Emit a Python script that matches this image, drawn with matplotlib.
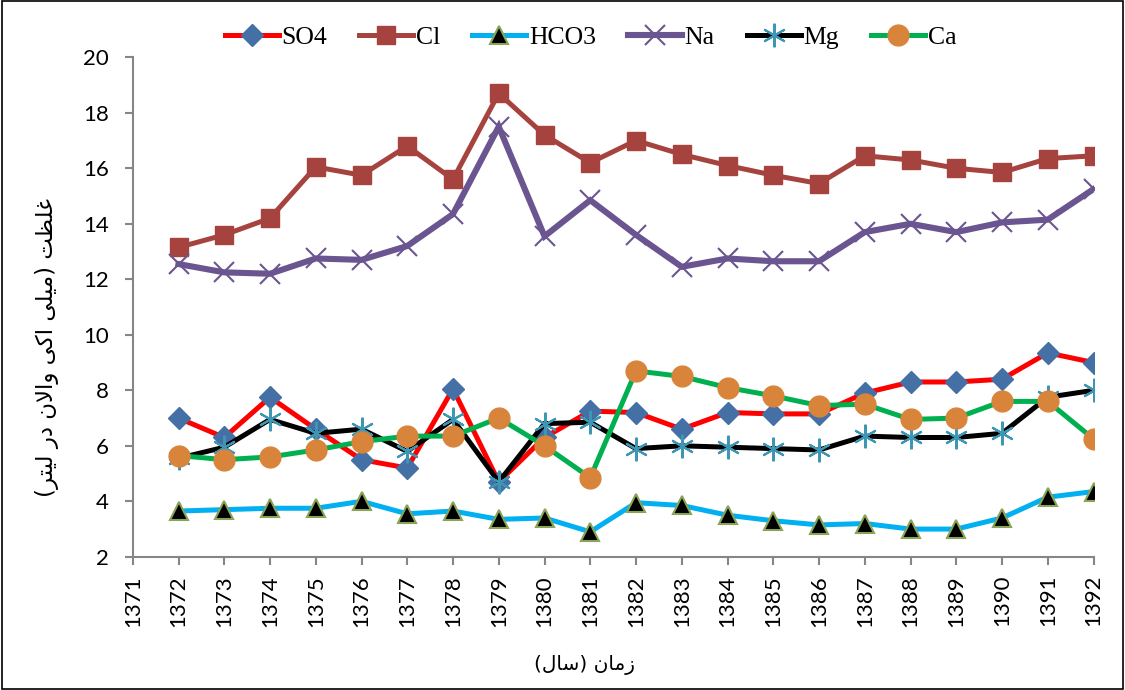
import matplotlib
matplotlib.use("Agg")
import matplotlib.pyplot as plt
from matplotlib.patches import Rectangle

years = list(range(1372, 1393))

so4 = [7.0, 6.3, 7.75, 6.6, 5.5, 5.2, 8.05, 4.7, 6.3, 7.25, 7.2, 6.6,
       7.2, 7.15, 7.15, 7.9, 8.3, 8.3, 8.4, 9.35, 9.0]
cl = [13.15, 13.6, 14.2, 16.05, 15.75, 16.8, 15.6, 18.7, 17.2, 16.2, 17.0, 16.5,
      16.1, 15.75, 15.45, 16.45, 16.3, 16.0, 15.85, 16.35, 16.45]
hco3 = [3.65, 3.7, 3.75, 3.75, 4.0, 3.55, 3.65, 3.35, 3.4, 2.9, 3.95, 3.85,
        3.5, 3.3, 3.15, 3.2, 3.0, 3.0, 3.4, 4.15, 4.35]
na = [12.55, 12.25, 12.2, 12.75, 12.7, 13.2, 14.35, 17.5, 13.55, 14.85, 13.6, 12.45,
      12.75, 12.65, 12.65, 13.7, 14.0, 13.7, 14.05, 14.15, 15.25]
mg = [5.55, 5.95, 6.95, 6.45, 6.6, 5.8, 6.95, 4.7, 6.8, 6.85, 5.9, 6.0,
      5.95, 5.9, 5.85, 6.35, 6.3, 6.3, 6.45, 7.75, 8.0]
ca = [5.65, 5.5, 5.6, 5.85, 6.15, 6.35, 6.35, 7.0, 6.0, 4.85, 8.7, 8.5,
      8.1, 7.8, 7.45, 7.5, 6.95, 7.0, 7.6, 7.6, 6.25]

series_names = ["SO4", "Cl", "HCO3", "Na", "Mg", "Ca"]
y_ticks = list(range(2, 21, 2))
x_ticks = list(range(1371, 1393))

ylabel_text = "غلظت (میلی اکی والان در لیتر)"
xlabel_text = "زمان (سال)"

# minimal Persian shaping: (isolated, final, initial, medial)
FORMS = {
    "ا": ("\uFE8D", "\uFE8E", None, None),
    "ت": ("\uFE95", "\uFE96", "\uFE97", "\uFE98"),
    "د": ("\uFEA9", "\uFEAA", None, None),
    "ر": ("\uFEAD", "\uFEAE", None, None),
    "ز": ("\uFEAF", "\uFEB0", None, None),
    "س": ("\uFEB1", "\uFEB2", "\uFEB3", "\uFEB4"),
    "ظ": ("\uFEC5", "\uFEC6", "\uFEC7", "\uFEC8"),
    "غ": ("\uFECD", "\uFECE", "\uFECF", "\uFED0"),
    "ک": ("\uFB8E", "\uFB8F", "\uFB90", "\uFB91"),
    "ل": ("\uFEDD", "\uFEDE", "\uFEDF", "\uFEE0"),
    "م": ("\uFEE1", "\uFEE2", "\uFEE3", "\uFEE4"),
    "ن": ("\uFEE5", "\uFEE6", "\uFEE7", "\uFEE8"),
    "و": ("\uFEED", "\uFEEE", None, None),
    "ی": ("\uFBFC", "\uFBFD", "\uFBFE", "\uFBFF"),
}


def shape(text):
    # lam-alef ligature first
    chars = []
    i = 0
    while i < len(text):
        if text[i] == "ل" and i + 1 < len(text) and text[i + 1] == "ا":
            chars.append("LA")
            i += 2
        else:
            chars.append(text[i])
            i += 1

    def joins_next(c):
        return c in FORMS and FORMS[c][2] is not None

    def is_letter(c):
        return c in FORMS or c == "LA"

    out = []
    for k, c in enumerate(chars):
        prev = chars[k - 1] if k > 0 else None
        nxt = chars[k + 1] if k + 1 < len(chars) else None
        from_prev = prev is not None and joins_next(prev)
        if c == "LA":
            out.append("\uFEFC" if from_prev else "\uFEFB")
            continue
        if c not in FORMS:
            out.append({"(": ")", ")": "("}.get(c, c))
            continue
        to_next = joins_next(c) and nxt is not None and is_letter(nxt)
        iso, fin, ini, med = FORMS[c]
        if from_prev and to_next:
            out.append(med)
        elif from_prev:
            out.append(fin)
        elif to_next:
            out.append(ini)
        else:
            out.append(iso)
    return "".join(reversed(out))


fig = plt.figure(figsize=(11.25, 6.9), dpi=100)
ax = fig.add_axes([0.118, 0.193, 0.854, 0.724])

styles = [
    (so4, dict(color="#FF0000", lw=3.6, marker="D", ms=11, mfc="#4470A6", mec="#4470A6")),
    (cl, dict(color="#A6433F", lw=3.6, marker="s", ms=13, mfc="#A6433F", mec="#A6433F")),
    (hco3, dict(color="#00B0F0", lw=3.6, marker="^", ms=13, mfc="black", mec="#8AA356", mew=1.5)),
    (na, dict(color="#6A5590", lw=4.4, marker="x", ms=15, mfc="#6A5590", mec="#6A5590", mew=1.5)),
    (mg, dict(color="black", lw=3.6, marker=(6, 2, 0), ms=17, mec="#3D97B4", mew=1.5)),
    (ca, dict(color="#00B050", lw=3.6, marker="o", ms=15, mfc="#D9843B", mec="#D9843B")),
]

handles = []
for (vals, st), name in zip(styles, series_names):
    line, = ax.plot(years, vals, label=name, solid_joinstyle="miter", **st)
    handles.append(line)

ax.set_xlim(1371, 1392)
ax.set_ylim(2, 20)
ax.set_yticks(y_ticks)
ax.set_xticks(x_ticks)
ax.set_xticklabels([str(x) for x in x_ticks], rotation=90)

for side in ["top", "right"]:
    ax.spines[side].set_visible(False)
for side in ["left", "bottom"]:
    ax.spines[side].set_color("#868686")
    ax.spines[side].set_linewidth(1.5)
ax.tick_params(axis="both", direction="out", color="#868686", width=1.5, length=6,
               labelsize=16)
ax.tick_params(axis="y", pad=11)
ax.tick_params(axis="x", pad=7)
for lab in ax.get_xticklabels() + ax.get_yticklabels():
    lab.set_fontfamily("Lato")

ax.set_ylabel(shape(ylabel_text), fontsize=16.5, family="DejaVu Sans")
ax.yaxis.set_label_coords(-0.077, 0.42)
fig.text(0.52, 0.036, shape(xlabel_text), fontsize=14.5, family="DejaVu Sans",
         ha="center", va="center")

fig.legend(handles=handles, loc="center", bbox_to_anchor=(0.525, 0.945), ncol=6,
           frameon=False, prop={"family": "Liberation Serif", "size": 18.5},
           handlelength=2.1, handletextpad=0.1, columnspacing=1.25)

fig.patches.append(Rectangle((0.002, 0.002), 0.996, 0.996, transform=fig.transFigure,
                             fill=False, edgecolor="black", lw=1.2))

fig.savefig("out.png", dpi=100)
